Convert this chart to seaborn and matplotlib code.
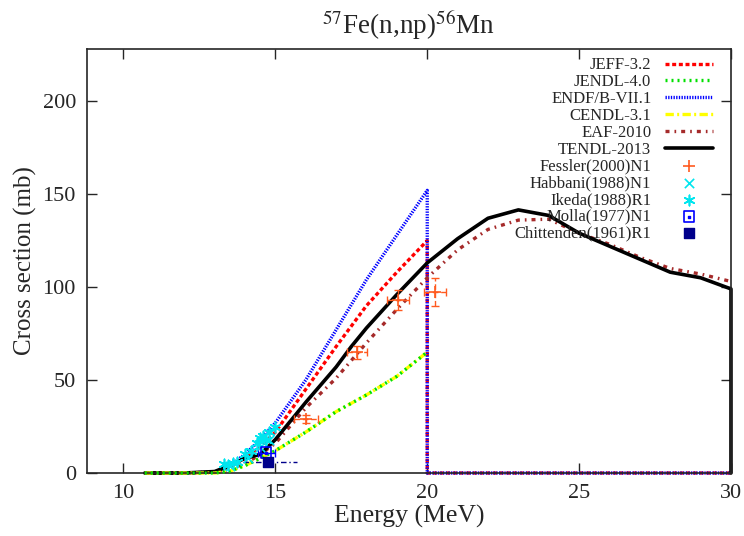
import numpy as np
import pandas as pd
import matplotlib
matplotlib.use('Agg')
import matplotlib.pyplot as plt
import seaborn as sns

# evaluated data (energy in MeV, cross section in mb)
e_tendl = [10.7, 12.0, 13.0, 13.5, 14.0, 14.5, 15.0, 15.5, 16.0, 17.0, 17.5, 18.0, 19.0, 20.0,
           21.0, 22.0, 23.0, 24.0, 25.0, 26.0, 27.0, 28.0, 29.0, 30.0, 30.0]
s_tendl = [0.0, 0.0, 0.8, 4.0, 8.0, 10.0, 18.0, 28.0, 38.0, 57.0, 68.0, 78.0, 96.0, 113.0,
           126.0, 137.0, 141.5, 138.5, 129.0, 122.0, 115.0, 108.0, 105.0, 99.0, 0.0]

e_eaf = [10.7, 12.0, 13.0, 13.5, 14.0, 14.5, 15.0, 16.0, 17.0, 18.0, 19.0, 20.0,
         21.0, 22.0, 23.0, 24.0, 25.0, 26.0, 27.0, 28.0, 29.0, 30.0]
s_eaf = [0.0, 0.0, 0.5, 2.0, 5.0, 10.0, 16.0, 35.0, 51.0, 70.0, 88.0, 105.0,
         120.0, 131.0, 136.0, 136.5, 129.0, 123.0, 116.0, 110.0, 107.0, 103.0]

e_low = [10.7, 12.0, 13.0, 13.5, 14.0, 14.5, 15.0, 16.0, 17.0, 18.0, 19.0, 20.0, 20.0, 30.0]
s_jeff = [0.0, 0.0, 0.5, 3.0, 8.0, 14.0, 22.0, 45.0, 68.0, 90.0, 108.0, 125.0, 0.0, 0.0]
s_endf = [0.0, 0.0, 0.5, 4.0, 10.0, 18.0, 27.0, 50.0, 77.0, 104.0, 128.0, 152.0, 0.0, 0.0]

e_cj = [10.7, 12.0, 13.0, 13.5, 14.0, 14.5, 15.0, 16.0, 17.0, 18.0, 19.0, 20.0]
s_cendl = [0.0, 0.0, 0.0, 1.0, 4.0, 8.0, 12.0, 22.0, 33.0, 42.0, 52.0, 65.0]
s_jendl = [0.0, 0.0, 0.0, 1.0, 4.0, 8.0, 12.0, 22.0, 33.0, 42.0, 52.0, 65.0]

# experimental data
e_fessler = [16.0, 17.7, 19.05, 20.25]
s_fessler = [29.0, 65.0, 93.0, 97.5]
de_fessler = [0.4, 0.33, 0.36, 0.36]
ds_fessler = [2.0, 3.5, 5.4, 7.6]

e_habbani = [13.5, 14.1, 14.5, 14.8]
s_habbani = [4.0, 8.0, 14.0, 18.0]

e_ikeda = [13.3, 13.45, 13.6, 13.75, 14.0, 14.2, 14.4, 14.5, 14.6, 14.7, 14.8, 15.0]
s_ikeda = [5.0, 4.5, 5.5, 6.0, 10.0, 12.0, 16.0, 19.0, 20.0, 18.0, 22.0, 25.0]

e_molla = [14.7]
s_molla = [11.0]
de_molla = [0.28]

e_chitt = [14.75]
s_chitt = [5.7]
de_chitt = [[0.8], [0.95]]

sns.set_style('ticks')
plt.rcParams['font.family'] = ['Liberation Serif', 'DejaVu Serif']
plt.rcParams['mathtext.fontset'] = 'stix'

fig = plt.figure(figsize=(7.44, 5.36), dpi=100)
ax = fig.add_axes([0.117, 0.1175, 0.8655, 0.791])

lw = 2.4
curves = [
    ('JEFF-3.2', e_low, s_jeff, '#ff0000', (1.2, 0.8)),
    ('JENDL-4.0', e_cj, s_jendl, '#00e000', (0.6, 1.2)),
    ('ENDF/B-VII.1', e_low, s_endf, '#0000ff', (0.4, 0.4)),
    ('CENDL-3.1', e_cj, s_cendl, '#ffff00', (2.5, 1.0, 0.6, 1.0)),
    ('EAF-2010', e_eaf, s_eaf, '#a52a2a', (1.2, 1.5, 0.5, 1.5)),
    ('TENDL-2013', e_tendl, s_tendl, '#000000', None),
]
handles = []
for name, x, y, c, d in curves:
    df = pd.DataFrame({'E': x, 'xs': y})
    sns.lineplot(data=df, x='E', y='xs', estimator=None, sort=False, color=c,
                 lw=lw if name != 'TENDL-2013' else 2.6, ax=ax, clip_on=False)
    line = ax.lines[-1]
    if d is not None:
        line.set_dashes(d)
    # green dots sit on top of the yellow dash-dot
    if name == 'JENDL-4.0':
        line.set_zorder(2.6)
    elif name == 'CENDL-3.1':
        line.set_zorder(2.5)
    handles.append(line)

# experimental points
eb = ax.errorbar(e_fessler, s_fessler, xerr=de_fessler, yerr=ds_fessler, fmt='none',
                 ecolor='#ff5a1f', elinewidth=1, capsize=3, zorder=4)
for l in eb[2]:
    l.set_linestyle((0, (4, 2)))
h = ax.scatter(e_fessler, s_fessler, marker='+', s=80, color='#ff5a1f', linewidths=1.2, zorder=5)
handles.append(h)
h = ax.scatter(e_habbani, s_habbani, marker='x', s=45, color='#00e5ee', linewidths=1.2, zorder=5)
handles.append(h)
h = ax.scatter(e_ikeda, s_ikeda, marker=(6, 2, 0), s=55, color='#00e5ee', linewidths=1.2, zorder=5)
handles.append(h)
ax.errorbar(e_molla, s_molla, xerr=de_molla, fmt='none', ecolor='#0000ff', elinewidth=1,
            capsize=3, zorder=4)
h1 = ax.scatter(e_molla, s_molla, marker='s', s=55, facecolors='none', edgecolors='#0000ff',
                linewidths=1.2, zorder=5)
h2 = ax.scatter(e_molla, s_molla, marker='s', s=4, color='#0000ff', zorder=5)
handles.append((h1, h2))
eb = ax.errorbar(e_chitt, s_chitt, xerr=de_chitt, fmt='none', ecolor='#00008b', elinewidth=1,
                 zorder=4)
for l in eb[2]:
    l.set_linestyle((0, (4, 2, 1, 2)))
h = ax.scatter(e_chitt, s_chitt, marker='s', s=50, color='#00008b', zorder=5)
handles.append(h)

labels = ['JEFF-3.2', 'JENDL-4.0', 'ENDF/B-VII.1', 'CENDL-3.1', 'EAF-2010', 'TENDL-2013',
          'Fessler(2000)N1', 'Habbani(1988)N1', 'Ikeda(1988)R1', 'Molla(1977)N1',
          'Chittenden(1961)R1']
ax.legend(handles, labels, loc='upper right', frameon=False, markerfirst=False,
          fontsize=12, labelspacing=0.05, handlelength=2.9, handletextpad=0.8,
          borderaxespad=0.1, bbox_to_anchor=(0.985, 1.0))

ax.set_xlim(8.8, 30)
ax.set_ylim(0, 228)
ax.set_xticks([10, 15, 20, 25, 30])
ax.set_yticks([0, 50, 100, 150, 200])
ax.tick_params(direction='in', length=7, width=1, top=True, right=True, labelsize=16, pad=8)
for s in ax.spines.values():
    s.set_linewidth(1.2)
    s.set_visible(True)
ax.set_xlabel('Energy (MeV)', fontsize=18.5, labelpad=1)
ax.set_ylabel('Cross section (mb)', fontsize=18, labelpad=4)
ax.set_title(r'$^{57}$Fe(n,np)$^{56}$Mn', fontsize=19.5, pad=11)

fig.savefig('out.png', dpi=100)
